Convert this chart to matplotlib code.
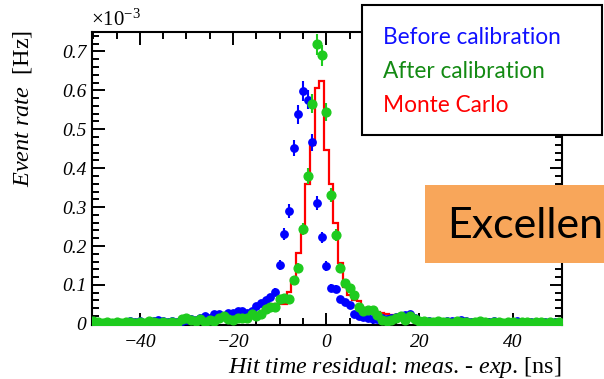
import numpy as np
import matplotlib
matplotlib.use("Agg")
import matplotlib.pyplot as plt
from matplotlib.patches import Rectangle
from matplotlib.ticker import MultipleLocator, FuncFormatter

plt.rcParams['font.family'] = 'Liberation Serif'
plt.rcParams['mathtext.fontset'] = 'custom'
plt.rcParams['mathtext.rm'] = 'Liberation Serif'
plt.rcParams['mathtext.it'] = 'Liberation Serif:italic'

# bin centres of the 1 ns histogram, event rate in units of 1e-3 Hz
bin_centers = np.arange(-50, 51)

before = [
    0.004, 0.000, 0.002, 0.003, 0.002, 0.004, 0.003, 0.005, 0.006, 0.004,   # -50..-41
    0.006, 0.003, 0.002, 0.008, 0.010, 0.008, 0.005, 0.006, 0.004, 0.007,   # -40..-31
    0.010, 0.013, 0.009, 0.015, 0.021, 0.016, 0.026, 0.024, 0.020, 0.028,   # -30..-21
    0.028, 0.032, 0.033, 0.028, 0.034, 0.046, 0.053, 0.062, 0.068, 0.083,   # -20..-11
    0.151, 0.232, 0.290, 0.452, 0.538, 0.598, 0.576, 0.467, 0.310, 0.222,   # -10..-1
    0.148,                                                                   # 0
    0.092, 0.090, 0.063, 0.057, 0.049, 0.025, 0.020, 0.017, 0.014, 0.013,   # 1..10
    0.012, 0.015, 0.013, 0.016, 0.018, 0.020, 0.022, 0.024, 0.016, 0.006,   # 11..20
    0.004, 0.007, 0.005, 0.006, 0.004, 0.008, 0.006, 0.005, 0.009, 0.006,   # 21..30
    0.004, 0.005, 0.007, 0.005, 0.004, 0.006, 0.005, 0.003, 0.005, 0.004,   # 31..40
    0.006, 0.005, 0.003, 0.004, 0.005, 0.003, 0.004, 0.003, 0.004, 0.005,   # 41..50
]

after = [
    0.006, 0.004, 0.003, 0.005, 0.002, 0.004, 0.003, 0.005, 0.004, 0.003,
    0.005, 0.003, 0.006, 0.004, 0.002, 0.005, 0.003, 0.004, 0.002, 0.012,
    0.015, 0.010, 0.008, 0.013, 0.004, 0.010, 0.006, 0.015, 0.019, 0.013,
    0.010, 0.015, 0.016, 0.015, 0.025, 0.020, 0.025, 0.038, 0.044, 0.043,
    0.065, 0.066, 0.065, 0.113, 0.144, 0.243, 0.380, 0.566, 0.718, 0.690,
    0.544,
    0.331, 0.228, 0.144, 0.104, 0.092, 0.073, 0.042, 0.034, 0.035, 0.036,
    0.023, 0.010, 0.006, 0.010, 0.016, 0.020, 0.010, 0.019, 0.012, 0.008,
    0.006, 0.004, 0.005, 0.006, 0.004, 0.005, 0.003, 0.006, 0.004, 0.005,
    0.003, 0.004, 0.006, 0.004, 0.003, 0.005, 0.004, 0.003, 0.005, 0.004,
    0.003, 0.005, 0.004, 0.003, 0.004, 0.005, 0.003, 0.004, 0.003, 0.005,
]

monte_carlo = [
    0.004, 0.004, 0.004, 0.005, 0.004, 0.005, 0.004, 0.005, 0.005, 0.005,
    0.005, 0.005, 0.006, 0.006, 0.006, 0.006, 0.007, 0.007, 0.007, 0.008,
    0.008, 0.009, 0.009, 0.010, 0.010, 0.011, 0.012, 0.013, 0.014, 0.016,
    0.017, 0.018, 0.020, 0.022, 0.027, 0.027, 0.027, 0.040, 0.040, 0.050,
    0.050, 0.050, 0.083, 0.115, 0.181, 0.233, 0.360, 0.460, 0.605, 0.623,
    0.446,
    0.360, 0.260, 0.156, 0.095, 0.074, 0.062, 0.058, 0.040, 0.038, 0.036,
    0.030, 0.028, 0.026, 0.022, 0.020, 0.018, 0.015, 0.013, 0.011, 0.010,
    0.009, 0.009, 0.008, 0.008, 0.007, 0.007, 0.007, 0.006, 0.006, 0.006,
    0.006, 0.005, 0.005, 0.005, 0.005, 0.005, 0.005, 0.004, 0.004, 0.004,
    0.004, 0.004, 0.004, 0.004, 0.004, 0.004, 0.004, 0.004, 0.004, 0.004,
]

before = np.array(before)
after = np.array(after)
monte_carlo = np.array(monte_carlo)
edges = np.append(bin_centers - 0.5, bin_centers[-1] + 0.5)

# poisson-like errors, scaled so the peak bins get about +-0.02
err_before = 0.025 * np.sqrt(before / 0.6)
err_after = 0.025 * np.sqrt(after / 0.6)

fig = plt.figure(figsize=(6.04, 3.79), dpi=100)
ax = fig.add_axes([0.152, 0.1425, 0.7785, 0.7731])

ax.stairs(monte_carlo, edges, color='#ff0000', lw=1.6, baseline=None, zorder=2)
ax.errorbar(bin_centers, before, yerr=err_before, fmt='o', color='#0000ff',
            ms=5.3, elinewidth=1.5, capsize=0, zorder=3)
ax.errorbar(bin_centers, after, yerr=err_after, fmt='o', color='#1ecb1e',
            ms=6.3, elinewidth=1.5, capsize=0, zorder=4)

ax.set_xlim(-50.3, 50.6)
ax.set_ylim(-0.003, 0.75)

ax.xaxis.set_major_locator(MultipleLocator(20))
ax.xaxis.set_minor_locator(MultipleLocator(5))
ax.yaxis.set_major_locator(MultipleLocator(0.1))
ax.yaxis.set_minor_locator(MultipleLocator(0.02))
ax.yaxis.set_major_formatter(FuncFormatter(lambda v, p: '0' if abs(v) < 1e-9 else f'{v:.1f}'))
ax.xaxis.set_major_formatter(FuncFormatter(lambda v, p: f'{v:.0f}'.replace('-', '\u2212')))
ax.tick_params(which='both', direction='in', top=True, right=True, width=1.4, color='black')
ax.tick_params(which='major', length=9)
ax.tick_params(which='minor', length=5)
ax.tick_params(axis='x', pad=6.5)
ax.tick_params(axis='y', pad=4)
for lab in ax.get_xticklabels() + ax.get_yticklabels():
    lab.set_fontstyle('italic')
    lab.set_fontsize(14)
for s in ax.spines.values():
    s.set_linewidth(1.5)

fig.text(91 / 604, 1 - 26 / 379, r'$\times\mathit{10}^{-3}$', fontsize=15,
         ha='left', va='baseline')
fig.text(23 / 604, 1 - 30 / 379, r'$\mathit{Event\ rate}$  [Hz]', fontsize=17.5,
         rotation=90, ha='center', va='top')
fig.text(561 / 604, 1 - 373 / 379,
         r'$\mathit{Hit\ time\ residual}$: $\mathit{meas}$. - $\mathit{exp}$. [ns]',
         fontsize=17.3, ha='right', va='baseline')

# legend box drawn on top of the frame
fig.patches.append(Rectangle((362 / 604, 1 - 135 / 379), 240 / 604, 130 / 379,
                             transform=fig.transFigure, facecolor='white',
                             edgecolor='black', lw=1.5, zorder=5))
legend_items = [('Before calibration', '#1010ff'),
                ('After calibration', '#138a13'),
                ('Monte Carlo', '#ff0000')]
for i, (txt, col) in enumerate(legend_items):
    fig.text(383 / 604, 1 - (38 + 33.5 * i) / 379, txt, color=col, fontsize=16.3,
             family='Lato', ha='left', va='center', zorder=6)

# orange callout at the right edge
fig.patches.append(Rectangle((425 / 604, 1 - 263 / 379), 190 / 604, 78 / 379,
                             transform=fig.transFigure, facecolor='#f8a65a',
                             edgecolor='none', zorder=5))
fig.text(447 / 604, 1 - 226 / 379, 'Excellen', fontsize=31, family='Lato',
         color='black', ha='left', va='center', zorder=6)

fig.savefig('out.png', dpi=100)
